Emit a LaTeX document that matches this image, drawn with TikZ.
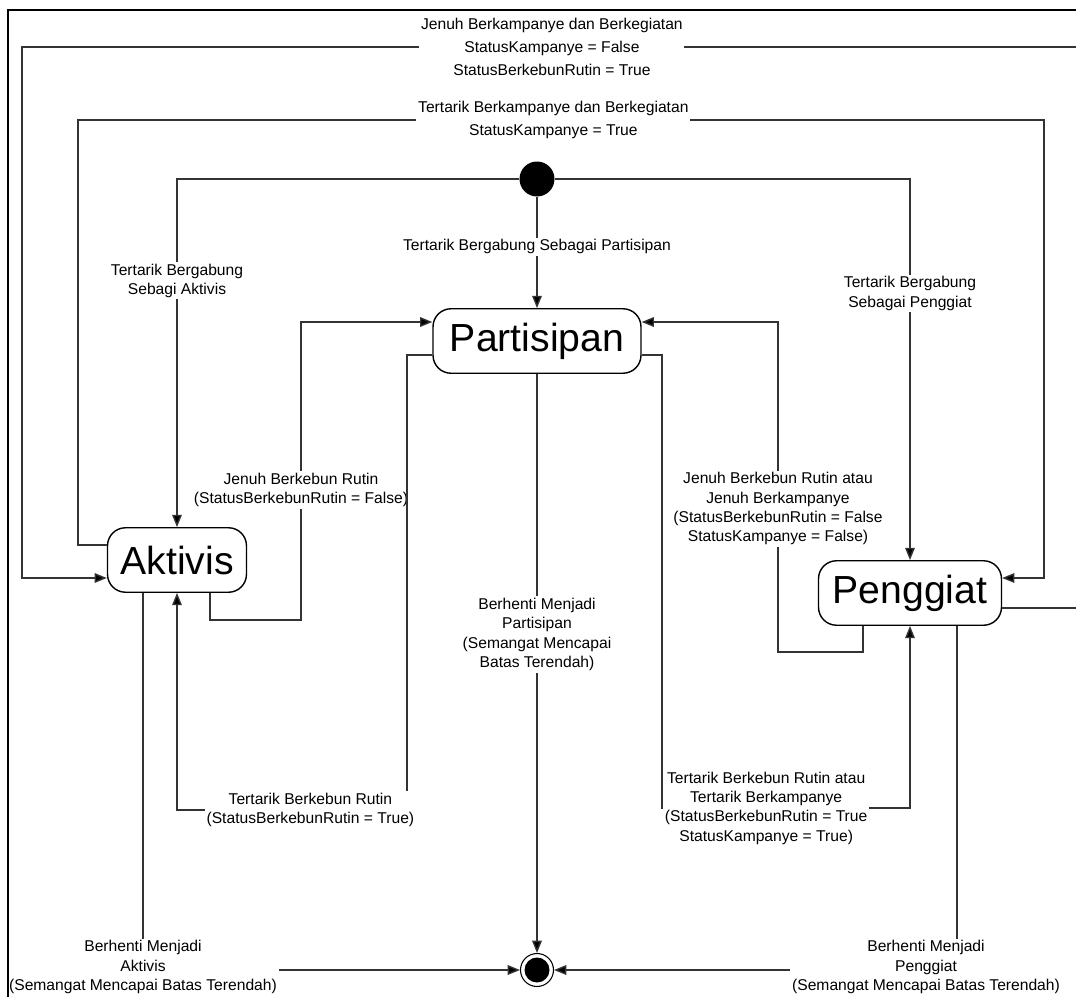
\documentclass[tikz,border=0pt]{standalone}
\usepackage{fontspec}
\setmainfont{Liberation Sans}
\usetikzlibrary{calc,arrows.meta}

\begin{document}
\begin{tikzpicture}[x=0.02cm,y=-0.02cm,
  state/.style={draw,rounded corners=0.36cm,line width=0.8pt,minimum height=1.29cm,inner sep=0pt,font=\fontsize{22.3}{26}\selectfont},
  lbl/.style={fill=white,inner sep=1pt,align=center,font=\fontsize{8.9}{11}\selectfont},
  toplbl/.style={lbl,font=\fontsize{8.9}{13}\selectfont},
  trn/.style={draw=black!80,line width=0.8pt,-{Triangle[length=7pt,width=5.5pt,fill=black]}},
  startstate/.style={circle,fill=black,minimum size=0.7cm,inner sep=0pt},
  endstate/.style={circle,draw,line width=0.6pt,minimum size=0.66cm,inner sep=0pt,
    path picture={\fill[black] (path picture bounding box.center) circle (0.25cm);}}]
  \useasboundingbox (0,0) rectangle (1076,997);

  % states
  \node[startstate] (init) at (537,179) {};
  \node[state,minimum width=4.16cm] (part) at (537,341) {Partisipan};
  \node[state,minimum width=2.78cm] (akt) at (177,560) {Aktivis};
  \node[state,minimum width=3.66cm] (peng) at (910,593) {Penggiat};
  \node[endstate] (final) at (537,970) {};

  % from the start
  \draw[trn] (init) -- node[lbl,pos=0.45] (lpart) {Tertarik Bergabung Sebagai Partisipan} (part);
  \draw[trn] (init.west) -| node[lbl,pos=0.646] (lakt) {Tertarik Bergabung\\Sebagi Aktivis} (akt.north);
  \draw[trn] (init.east) -| node[lbl,pos=0.65] (lpeng) {Tertarik Bergabung\\Sebagai Penggiat} (peng.north);

  % outer loops
  \draw[trn] ($(akt.west)+(0,-15)$) -| (78,120)
    -| node[toplbl,pos=0.246] (lkamp) {Tertarik Berkampanye dan Berkegiatan\\StatusKampanye = True}
    ($(peng.east)+(42,-15)$) -- ($(peng.east)+(0,-15)$);
  \draw[trn] ($(peng.east)+(0,15)$) -| (1082,47)
    -| node[toplbl,pos=0.25] (ljenuh) {Jenuh Berkampanye dan Berkegiatan\\StatusKampanye = False\\StatusBerkebunRutin = True}
    ($(akt.west)+(-85,18)$) -- ($(akt.west)+(0,18)$);

  % aktivis <-> partisipan
  \draw[trn] ($(akt.south)+(33,0)$) |- (301,620)
    |- node[lbl,pos=0.218] (lak1) {Jenuh Berkebun Rutin\\(StatusBerkebunRutin = False)} ($(part.west)+(0,-19)$);
  \draw[trn] ($(part.west)+(0,14)$) -| (407,810)
    -| node[lbl,pos=0.21] (lak2) {Tertarik Berkebun Rutin\\(StatusBerkebunRutin = True)} (akt.south);

  % penggiat <-> partisipan
  \draw[trn] ($(peng.south)+(-47,0)$) |- (778,652)
    |- node[lbl,pos=0.217] (lpg1) {Jenuh Berkebun Rutin atau\\Jenuh Berkampanye\\(StatusBerkebunRutin = False\\StatusKampanye = False)} ($(part.east)+(0,-19)$);
  \draw[trn] ($(part.east)+(0,14)$) -| (662,808)
    -| node[lbl,pos=0.21] (lpg2) {Tertarik Berkebun Rutin atau\\Tertarik Berkampanye\\(StatusBerkebunRutin = True\\StatusKampanye = True)} (peng.south);

  % to the end
  \draw[trn] (part) -- node[lbl,pos=0.45] (lend1) {Berhenti Menjadi\\Partisipan\\(Semangat Mencapai\\Batas Terendah)} (final);
  \draw[trn] ($(akt.south)+(-34,0)$) |- node[lbl,pos=0.5,yshift=0.06cm] (lend2) {Berhenti Menjadi\\Aktivis\\(Semangat Mencapai Batas Terendah)} (final.west);
  \draw[trn] ($(peng.south)+(47,0)$) |- node[lbl,pos=0.5,xshift=-0.62cm,yshift=0.06cm] (lend3) {Berhenti Menjadi\\Penggiat\\(Semangat Mencapai Batas Terendah)} (final.east);

  % frame
  \draw[line width=1.6pt] (8,1005) -- (8,10) -- (1085,10);
\end{tikzpicture}
\end{document}
